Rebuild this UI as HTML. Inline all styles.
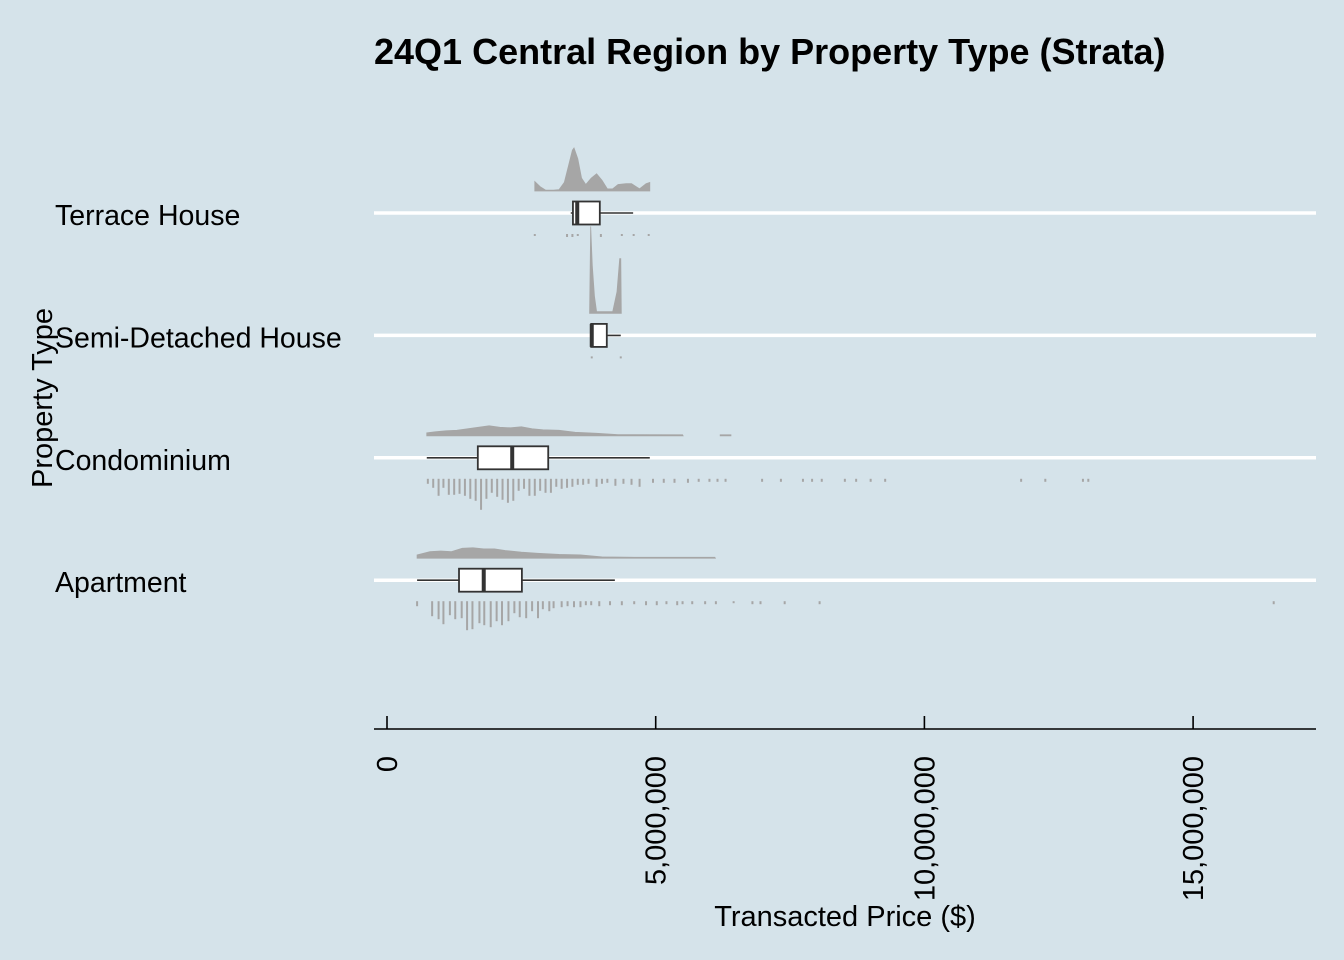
<!DOCTYPE html>
<html><head><meta charset="utf-8"><style>
body{margin:0;background:#d5e3ea;}
svg{display:block;font-family:"Liberation Sans",Arial,sans-serif;}
</style></head><body>
<svg id="chart" width="1344" height="960" viewBox="0 0 1344 960">
<rect width="1344" height="960" fill="#d5e3ea"/>
<text x="374" y="64" font-size="36" font-weight="bold" fill="#000">24Q1 Central Region by Property Type (Strata)</text>
<text transform="translate(52,398) rotate(-90)" text-anchor="middle" font-size="29">Property Type</text>
<text x="845" y="926" text-anchor="middle" font-size="29">Transacted Price ($)</text>
<g id="plot"></g>
</svg>
<script>
const categories = ["Terrace House","Semi-Detached House","Condominium","Apartment"];
const boxMin = [3.42, 3.80, 0.74, 0.56];
const boxQ1 = [3.46, 3.80, 1.69, 1.34];
const boxMed = [3.54, 3.81, 2.33, 1.80];
const boxQ3 = [3.96, 4.09, 3.00, 2.51];
const boxMax = [4.58, 4.35, 4.89, 4.24];
const xTicks = [0, 5, 10, 15];
const xTickLabels = ["0","5,000,000","10,000,000","15,000,000"];
const densTerrace = [[2.75,0.22],[2.85,0.1],[2.95,0.02],[3.1,0.02],[3.2,0.03],[3.3,0.2],[3.38,0.6],[3.45,0.95],[3.48,1.0],[3.55,0.75],[3.62,0.3],[3.7,0.15],[3.8,0.3],[3.9,0.4],[4.0,0.25],[4.1,0.05],[4.2,0.05],[4.3,0.15],[4.45,0.17],[4.55,0.17],[4.7,0.05],[4.82,0.17],[4.89,0.2]];
const densSemi = [[3.77,0],[3.79,1.0],[3.82,0.55],[3.86,0.2],[3.9,0.02],[4.2,0.02],[4.28,0.25],[4.33,0.63],[4.35,0.63],[4.36,0]];
const densCondo = [[0.74,0.3],[0.9,0.4],[1.1,0.5],[1.3,0.55],[1.5,0.7],[1.7,0.85],[1.9,1.0],[2.1,0.85],[2.3,0.8],[2.5,0.9],[2.7,0.7],[2.9,0.6],[3.2,0.55],[3.5,0.35],[3.9,0.25],[4.3,0.12],[5.5,0.1],[5.51,0]];
const densCondoTail = [[6.2,0.1],[6.4,0.1]];
const densApt = [[0.56,0.3],[0.8,0.6],[1.0,0.65],[1.2,0.6],[1.4,0.9],[1.6,0.95],[1.8,0.85],[2.0,0.85],[2.2,0.7],[2.5,0.55],[2.8,0.45],[3.2,0.35],[3.6,0.3],[4.0,0.12],[4.6,0.08],[6.1,0.08],[6.11,0]];
const densPeak = [43, 87, 10, 11];
const rugTerrace = [[2.75,2],[3.35,3],[3.45,3],[3.55,2],[3.98,3],[4.37,2],[4.59,2],[4.87,2]];
const rugSemi = [[3.81,2],[4.35,2]];
const rugCondo = [[0.76,5],[0.86,9],[0.96,17],[1.05,9],[1.15,16],[1.25,16],[1.35,15],[1.45,17],[1.55,20],[1.65,22],[1.75,31],[1.85,20],[1.95,14],[2.05,18],[2.15,21],[2.25,24],[2.35,22],[2.45,12],[2.55,10],[2.65,17],[2.75,17],[2.85,12],[2.95,14],[3.05,14],[3.15,8],[3.25,10],[3.35,9],[3.45,8],[3.55,6],[3.65,6],[3.75,5],[3.9,8],[4.0,5],[4.1,4],[4.25,7],[4.4,5],[4.55,6],[4.7,8],[4.95,4],[5.15,4],[5.35,4],[5.6,4],[5.8,3],[6.0,3],[6.15,3],[6.3,3],[6.98,3],[7.33,3],[7.74,3],[7.91,3],[8.09,3],[8.52,3],[8.73,3],[9.0,3],[9.27,3],[11.8,3],[12.25,3],[12.95,3],[13.05,3]];
const rugApt = [[0.56,5],[0.84,15],[0.96,18],[1.05,23],[1.17,14],[1.27,18],[1.39,17],[1.49,29],[1.59,28],[1.72,22],[1.81,24],[1.93,26],[2.04,20],[2.14,24],[2.26,20],[2.37,12],[2.47,16],[2.59,17],[2.7,10],[2.81,17],[2.9,8],[3.02,10],[3.1,7],[3.25,6],[3.36,5],[3.48,6],[3.6,6],[3.7,4],[3.8,4],[3.95,5],[4.15,4],[4.37,4],[4.6,3],[4.82,4],[5.02,4],[5.2,3],[5.4,4],[5.5,3],[5.68,3],[5.92,3],[6.12,3],[6.45,2],[6.8,3],[6.95,3],[7.4,3],[8.05,3],[16.5,3]];

const dens = [densTerrace, densSemi, densCondo, densApt];
const rugs = [rugTerrace, rugSemi, rugCondo, rugApt];
const NS = "http://www.w3.org/2000/svg";
const plot = document.getElementById("plot");
const X0 = 387, PXM = 53.74;
function xs(v){ return X0 + v*PXM; }
function ys(i){ return 213 + i*122.4; }
function mk(tag, attrs, parent){ const e=document.createElementNS(NS,tag); for(const k in attrs) e.setAttribute(k,attrs[k]); (parent||plot).appendChild(e); return e; }
function areaPath(d, base, peak){
  let p = "M"+xs(d[0][0])+","+base;
  d.forEach(pt=>{ p += " L"+xs(pt[0])+","+(base - pt[1]*peak); });
  p += " L"+xs(d[d.length-1][0])+","+base+" Z";
  return p;
}

categories.forEach((c,i)=>{
  const g = mk("line",{x1:374,x2:1316,y1:ys(i),y2:ys(i),stroke:"#fff","stroke-width":3.5});
  
  
  const t = mk("text",{x:55,y:ys(i)+12,"font-size":28.5,fill:"#000"});
  t.textContent = c;
  
  
});

categories.forEach((c,i)=>{
  const y = ys(i);
  const base = y - 22;
  const dp = mk("path",{d:areaPath(dens[i],base,densPeak[i]),fill:"#a6a6a6",stroke:"#a6a6a6","stroke-width":0.8});
  
  
  if(i===2){
    const tp = mk("path",{d:areaPath(densCondoTail,base,densPeak[i]),fill:"#a6a6a6",stroke:"#a6a6a6","stroke-width":0.8});
    
    
  }
  rugs[i].forEach(r=>{
    const rl = mk("line",{x1:xs(r[0]),x2:xs(r[0]),y1:y+21,y2:y+21+r[1],stroke:"#a6a6a6","stroke-width":2});
    
    
  });
  const wh = mk("line",{x1:xs(boxMin[i]),x2:xs(boxMax[i]),y1:y,y2:y,stroke:"#333","stroke-width":1.6});
  
  
  const bx = mk("rect",{x:xs(boxQ1[i]),y:y-11.5,width:xs(boxQ3[i])-xs(boxQ1[i]),height:23,fill:"#fff",stroke:"#333","stroke-width":1.8});
  
  
  const md = mk("line",{x1:xs(boxMed[i]),x2:xs(boxMed[i]),y1:y-11.5,y2:y+11.5,stroke:"#333","stroke-width":4});
  
  
});

const ax = mk("line",{x1:374,x2:1316,y1:729,y2:729,stroke:"#000","stroke-width":1.6});


xTicks.forEach((v,k)=>{
  const tk = mk("line",{x1:xs(v),x2:xs(v),y1:716,y2:729,stroke:"#000","stroke-width":1.6});
  
  
  const tl = mk("text",{transform:"translate("+(xs(v)+10)+",756) rotate(-90)","text-anchor":"end","font-size":29,fill:"#000"});
  tl.textContent = xTickLabels[k];
  
  
});
</script>
</body></html>
